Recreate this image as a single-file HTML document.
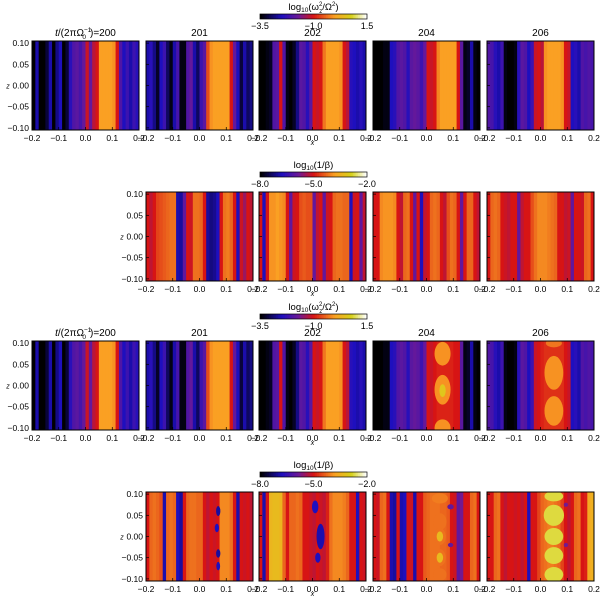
<!DOCTYPE html>
<html><head><meta charset="utf-8">
<style>
html,body{margin:0;padding:0;background:#fff;}
svg{display:block;font-family:"Liberation Sans",sans-serif;}
</style></head>
<body>
<svg id="fig" width="600" height="598" viewBox="0 0 600 598" xmlns="http://www.w3.org/2000/svg"></svg>
<script>
// ---- data ----
const times = ["200","201","202","204","206"];
const xTicks = [-0.2,-0.1,0.0,0.1,0.2];
const xTickLabels = ["\u22120.2","\u22120.1","0.0","0.1","0.2"];
const zTicks = [0.10,0.05,0.00,-0.05,-0.10];
const zTickLabels = ["0.10","0.05","0.00","\u22120.05","\u22120.10"];
const omegaRange = [-3.5,1.5];
const betaRange = [-8.0,-2.0];
const omegaBarLabels = ["\u22123.5","\u22121.0","1.5"];
const betaBarLabels = ["\u22128.0","\u22125.0","\u22122.0"];

const w200 = [-3.5,-2.6,-3.5,-3.5,-3.2,-2.6,-3.5,-2.8,-2.5,-3.5,-3.2,-2.4,-2.0,-1.9,-2.1,-1.8,-1.1,-1.8,-1.2,-1.0,0.0,0.0,0.0,0.0,-0.1,-1.0,-2.0,-2.5,-2.2,-2.6,-2.2,-2.4];
const w201 = [-2.6,-2.4,-2.8,-3.3,-2.5,-2.2,-3.0,-3.4,-2.6,-2.1,-3.4,-3.4,-2.0,-1.8,-2.6,-3.0,-2.2,-1.9,-0.6,-0.1,0.0,0.0,0.0,0.0,0.0,-1.0,-1.8,-2.5,-3.2,-2.6,-3.0,-2.8];
const w202 = [-3.5,-3.5,-3.4,-3.3,-2.0,-1.9,-1.0,-2.0,-3.4,-3.5,-3.3,-2.8,-1.9,-2.0,-2.4,-1.9,-1.0,-1.1,-1.0,-0.3,0.0,0.0,0.0,0.0,-0.1,-1.0,-1.2,-2.4,-2.5,-2.6,-2.4,-2.6];
const w204 = [-3.5,-3.5,-3.5,-3.4,-3.4,-2.5,-2.4,-2.0,-1.9,-2.0,-2.4,-1.9,-1.8,-1.9,-2.2,-1.8,-1.0,-1.1,-1.0,-0.2,0.0,0.0,0.0,0.0,0.0,-1.0,-1.9,-3.4,-3.3,-2.6,-3.4,-3.5];
const w206 = [-2.0,-2.1,-2.4,-2.6,-2.2,-3.4,-3.5,-3.5,-3.4,-2.4,-1.9,-2.0,-2.5,-2.2,-1.1,-1.0,-1.2,-0.1,0.0,0.0,0.0,0.0,-0.1,-1.0,-1.1,-2.5,-2.4,-2.6,-2.0,-2.1,-2.0,-2.1];
const w204b = [-3.5,-3.5,-3.5,-3.4,-3.4,-2.5,-2.4,-2.0,-1.9,-2.0,-2.4,-1.9,-1.8,-1.9,-2.2,-1.8,-1.0,-1.1,-1.0,-0.9,-0.9,-0.9,-0.9,-0.9,-1.0,-1.0,-1.9,-3.4,-3.3,-2.6,-3.4,-3.5];
const w206b = [-2.0,-2.1,-2.4,-2.6,-2.2,-3.4,-3.5,-3.5,-3.4,-2.4,-1.9,-2.0,-2.5,-2.2,-1.1,-1.0,-0.9,-0.8,-0.8,-0.8,-0.8,-0.8,-0.8,-1.0,-1.1,-2.5,-2.4,-2.6,-2.0,-2.1,-2.0,-2.1];
const b200 = [-5.0,-5.2,-5.0,-4.6,-4.5,-4.4,-4.3,-4.2,-4.2,-6.9,-7.0,-6.0,-5.0,-5.1,-4.2,-4.2,-4.3,-5.0,-7.0,-7.2,-7.1,-6.8,-5.0,-4.2,-4.1,-4.3,-5.0,-6.8,-5.1,-5.5,-5.0,-5.2];
const b201 = [-5.0,-6.8,-5.0,-3.9,-3.9,-3.8,-3.9,-4.0,-5.0,-6.0,-5.1,-5.0,-4.5,-4.4,-4.5,-4.5,-6.0,-5.2,-5.0,-6.0,-5.1,-5.0,-4.3,-4.2,-4.2,-4.3,-4.3,-6.8,-5.1,-5.0,-6.0,-5.2];
const b202 = [-5.0,-5.0,-4.0,-3.9,-3.9,-3.9,-4.0,-5.0,-5.2,-4.3,-4.2,-5.0,-6.0,-5.0,-6.8,-5.2,-5.0,-4.3,-4.2,-4.3,-5.0,-5.2,-4.5,-4.2,-4.3,-5.0,-6.0,-5.0,-4.3,-4.3,-5.0,-5.2];
const b204 = [-5.0,-4.3,-4.2,-4.3,-5.0,-5.1,-5.2,-5.0,-5.0,-6.0,-5.2,-5.0,-5.0,-4.5,-4.2,-4.0,-4.0,-4.0,-4.1,-4.2,-4.3,-5.0,-5.0,-5.2,-5.1,-6.0,-5.0,-5.0,-5.1,-4.3,-4.2,-5.0];
const b206 = [-5.0,-4.3,-4.0,-4.2,-5.0,-5.0,-5.2,-5.0,-4.6,-5.0,-5.2,-5.0,-5.5,-6.0,-5.0,-4.8,-4.3,-4.2,-4.2,-4.4,-5.0,-5.1,-5.0,-5.2,-5.0,-4.6,-4.3,-4.2,-5.0,-5.0,-4.4,-5.0];
const c200 = [-5.0,-4.3,-4.2,-4.3,-4.5,-6.9,-4.3,-4.2,-4.3,-6.8,-7.0,-5.0,-4.3,-4.2,-4.2,-4.3,-4.3,-5.0,-5.2,-5.0,-5.1,-5.0,-4.0,-4.0,-4.0,-4.2,-5.0,-6.9,-5.0,-5.1,-5.0,-5.2];
const c201 = [-5.0,-6.9,-5.0,-3.4,-3.3,-3.3,-3.4,-4.3,-5.0,-4.3,-4.3,-4.2,-4.3,-5.0,-5.0,-5.1,-5.2,-5.0,-5.1,-5.2,-4.9,-4.2,-4.0,-4.0,-4.0,-4.1,-4.3,-5.0,-5.0,-6.8,-5.0,-5.1];
const c204 = [-5.0,-5.1,-4.3,-4.2,-5.0,-6.9,-7.0,-5.0,-6.9,-6.8,-5.0,-5.1,-6.9,-5.0,-5.0,-4.4,-4.3,-4.2,-4.2,-4.2,-4.3,-4.3,-4.4,-5.0,-5.1,-6.0,-5.8,-5.0,-5.0,-4.3,-4.2,-5.0];
const c206 = [-5.0,-5.0,-4.3,-4.2,-5.0,-5.2,-5.0,-5.0,-5.1,-5.0,-5.2,-5.0,-6.8,-5.0,-5.0,-4.6,-4.3,-4.2,-4.1,-4.1,-4.2,-4.3,-4.6,-5.0,-5.2,-5.0,-4.3,-4.2,-5.0,-4.9,-3.6,-3.5];

const blobs204w = [[0.06,0.075,0.030,0.028,-0.1],[0.06,-0.01,0.030,0.035,-0.1],[0.06,-0.012,0.012,0.015,0.6],[0.06,-0.10,0.030,0.02,-0.1]];
const blobs206w = [[0.05,0.03,0.035,0.040,-0.1],[0.05,-0.06,0.035,0.035,-0.1],[0.05,0.10,0.03,0.01,-0.3]];
const blobs200c = [[0.07,0.06,0.008,0.012,-7.0],[0.065,0.02,0.008,0.01,-6.8],[0.07,-0.04,0.008,0.01,-7.0],[0.07,-0.07,0.007,0.01,-6.8]];
const blobs201c = [[0.01,0.07,0.012,0.015,-6.8],[0.03,0.0,0.015,0.03,-6.9],[0.02,-0.05,0.01,0.012,-6.8]];
const blobs204c = [[0.05,0.09,0.03,0.012,-4.1],[0.05,0.035,0.025,0.02,-4.2],[0.05,0.0,0.022,0.02,-4.2],[0.05,0.0,0.012,0.012,-3.3],[0.05,-0.05,0.022,0.02,-4.2],[0.05,-0.05,0.012,0.012,-3.3],[0.05,-0.09,0.025,0.015,-4.2],[0.09,0.07,0.012,0.006,-6.0],[0.09,-0.02,0.01,0.005,-6.0]];
const blobs206c = [[0.05,0.095,0.035,0.012,-2.7],[0.05,0.05,0.038,0.025,-2.7],[0.05,0.0,0.035,0.02,-2.7],[0.05,-0.045,0.035,0.02,-2.7],[0.05,-0.09,0.035,0.018,-2.7],[0.095,0.075,0.008,0.005,-5.8],[0.095,-0.02,0.008,0.005,-5.8]];

const NS="http://www.w3.org/2000/svg";
const svg=document.getElementById('fig');
const colX=[32,146,259,373,487], PW=107;
const rowY=[41,192,341,492], PH=89;
function mk(tag,attrs,parent){const e=document.createElementNS(NS,tag);for(const k in attrs)e.setAttribute(k,attrs[k]);(parent||svg).appendChild(e);return e;}
const stops=[[0,[0,0,0]],[0.2,[30,15,190]],[0.36,[110,25,150]],[0.5,[215,20,20]],[0.7,[250,160,35]],[0.86,[215,210,25]],[1,[255,255,255]]];
function cmap(t){t=Math.max(0,Math.min(1,t));for(let i=1;i<stops.length;i++){if(t<=stops[i][0]){const a=stops[i-1],b=stops[i];const f=(t-a[0])/(b[0]-a[0]);const c=a[1].map((v,j)=>Math.round(v+(b[1][j]-v)*f));return `rgb(${c[0]},${c[1]},${c[2]})`;}}return 'rgb(255,255,255)';}
let clipId=0;
function panel(col,row,profile,blobs,range,name){
  const x0=colX[col],y0=rowY[row];
  const sx=v=>x0+(v+0.2)/0.4*PW, sz=v=>y0+(0.105-v)/0.21*PH;
  const norm=v=>(v-range[0])/(range[1]-range[0]);
  const g=mk('g',{});
  
  
  const cid='c'+(clipId++);
  const cp=mk('clipPath',{id:cid},g);mk('rect',{x:x0,y:y0,width:PW,height:PH},cp);
  const inner=mk('g',{'clip-path':`url(#${cid})`},g);
  const n=profile.length, dx=0.4/n;
  profile.forEach((v,i)=>{
    const r=mk('rect',{x:sx(-0.2+i*dx),y:y0,width:PW/n+0.6,height:PH,fill:cmap(norm(v))},inner);
    
    
  });
  (blobs||[]).forEach(b=>{
    const e=mk('ellipse',{cx:sx(b[0]),cy:sz(b[1]),rx:b[2]/0.4*PW,ry:b[3]/0.21*PH,fill:cmap(norm(b[4]))},inner);
    
    
  });
  mk('rect',{x:x0,y:y0,width:PW,height:PH,fill:'none',stroke:'#000','stroke-width':1},g);
  xTicks.forEach((t,i)=>{
    const X=sx(t);
    mk('line',{x1:X,x2:X,y1:y0+PH,y2:y0+PH-3,stroke:'#000','stroke-width':0.7},g);
    const tx=mk('text',{x:X,y:y0+PH+11,'font-size':8.5,'text-anchor':'middle',fill:'#000'},g);
    tx.textContent=xTickLabels[i];
  });
  const first=(row%2===0&&col===0)||(row%2===1&&col===1);
  zTicks.forEach((t,i)=>{
    const Y=sz(t);
    mk('line',{x1:x0,x2:x0+3,y1:Y,y2:Y,stroke:'#000','stroke-width':0.7},g);
    if(first){const tx=mk('text',{x:x0-3,y:Y+3,'font-size':8.5,'text-anchor':'end',fill:'#000'},g);tx.textContent=zTickLabels[i];}
  });
  if(first){const zl=mk('text',{x:x0-24,y:y0+PH/2+3,'font-size':7,'font-style':'italic','text-anchor':'middle'},g);zl.textContent='z';}
}
function colorbar(y,labels,titleHTML,name){
  const g=mk('g',{});
  
  
  const x0=260,w=107,n=60;
  for(let i=0;i<n;i++)mk('rect',{x:x0+i*w/n,y:y,width:w/n+0.5,height:5,fill:cmap(i/(n-1))},g);
  mk('rect',{x:x0,y:y,width:w,height:5,fill:'none',stroke:'#000','stroke-width':0.7},g);
  [x0,x0+w/2,x0+w].forEach((X,i)=>{const t=mk('text',{x:X,y:y+15,'font-size':9,'text-anchor':'middle'},g);t.textContent=labels[i];});
  const t=mk('text',{x:x0+w/2,y:y-4,'font-size':9.5,'text-anchor':'middle'},g);t.innerHTML=titleHTML;
}
const omegaTitle='log<tspan font-size="6.5" dy="2">10</tspan><tspan dy="-2">(ω</tspan><tspan font-size="6" dy="-4">2</tspan><tspan font-size="6" dx="-3" dy="7">z</tspan><tspan dy="-3">/Ω</tspan><tspan font-size="6" dy="-4">2</tspan><tspan dy="4">)</tspan>';
const betaTitle='log<tspan font-size="6.5" dy="2">10</tspan><tspan dy="-2">(1/β)</tspan>';
colorbar(14,omegaBarLabels,omegaTitle,'omega-colorbar-top');
colorbar(172,betaBarLabels,betaTitle,'beta-colorbar-top');
colorbar(314,omegaBarLabels,omegaTitle,'omega-colorbar-bottom');
colorbar(472,betaBarLabels,betaTitle,'beta-colorbar-bottom');

const row1=[w200,w201,w202,w204,w206];
const row3=[w200,w201,w202,w204b,w206b];
const row3b=[null,null,null,blobs204w,blobs206w];
const row2=[b200,b201,b202,b204,b206];
const row4=[c200,c201,c204,c206];
const row4b=[blobs200c,blobs201c,blobs204c,blobs206c];
row1.forEach((p,i)=>panel(i,0,p,null,omegaRange,'omega-panel-top-t'+times[i]));
row3.forEach((p,i)=>panel(i,2,p,row3b[i],omegaRange,'omega-panel-bottom-t'+times[i]));
const r2t=["200","201","204","206"];
row2.slice(0,4).forEach((p,i)=>panel(i+1,1,p,null,betaRange,'beta-panel-top-'+i));
row4.forEach((p,i)=>panel(i+1,3,p,row4b[i],betaRange,'beta-panel-bottom-t'+r2t[i]));

[0,2].forEach(r=>{
  times.forEach((t,i)=>{
    const tx=mk('text',{x:colX[i]+PW/2,y:rowY[r]-5,'font-size':10,'text-anchor':'middle'});
    
    
    if(i===0)tx.innerHTML='<tspan font-style="italic">t</tspan>/(2πΩ<tspan font-size="6.5" dy="-4">−1</tspan><tspan font-size="6.5" dx="-9" dy="7">0</tspan><tspan dx="4" dy="-3">)=200</tspan>';
    else tx.textContent=t;
  });
});
[0,1,2,3].forEach(r=>{
  const tx=mk('text',{x:colX[2]+PW/2,y:rowY[r]+PH+15,'font-size':7,'font-style':'italic','text-anchor':'middle'});
  
  
  tx.textContent='x';
});
</script>
</body></html>
